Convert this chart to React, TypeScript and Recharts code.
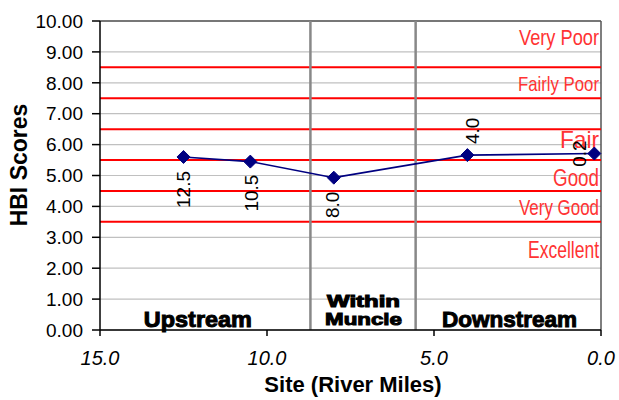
import React from "react";
import {
  CartesianGrid,
  LabelList,
  Line,
  LineChart,
  ReferenceDot,
  ReferenceLine,
  XAxis,
  YAxis,
} from "recharts";

// sites along the river, miles upstream of the mouth
const RIVER_MILES = [12.5, 10.5, 8.0, 4.0, 0.2];
const HBI_SCORES = [5.6, 5.45, 4.93, 5.66, 5.71];
const MILE_LABELS = ["12.5", "10.5", "8.0", "4.0", "0.2"];

// Hilsenhoff water quality bands
const BAND_LIMITS = [3.5, 4.5, 5.5, 6.5, 7.5, 8.5];
const BAND_NAMES = ["Very Poor", "Fairly Poor", "Fair", "Good", "Very Good", "Excellent"];
const BAND_NAME_Y = [9.22, 7.73, 5.89, 4.66, 3.72, 2.34];

// city limits and reach names
const REACH_LIMITS = [8.7, 5.55];
const REACH_NAMES = ["Upstream", "Within", "Muncle", "Downstream"];
const REACH_NAME_X = [12.07, 7.11, 7.11, 2.74];
const REACH_NAME_Y = [0.1, 0.74, 0.16, 0.1];

const X_TICKS = [15, 10, 5, 0];
const Y_TICKS = [0, 1, 2, 3, 4, 5, 6, 7, 8, 9, 10];

const FONT = "'Liberation Sans', Arial, Helvetica, sans-serif";
const NAVY = "#000080";
const BAND_RED = "#ff3333";

const data = RIVER_MILES.map((mile, i) => ({
  mile,
  hbi: HBI_SCORES[i],
  label: MILE_LABELS[i],
}));

const bandStyle: Record<string, { size: number; len: number }> = {
  "Very Poor": { size: 22, len: 80 },
  "Fairly Poor": { size: 21, len: 81 },
  Fair: { size: 24, len: 39 },
  Good: { size: 23, len: 46 },
  "Very Good": { size: 22, len: 80 },
  Excellent: { size: 24, len: 71 },
};

const reachStyle: Record<string, { size: number; len: number }> = {
  Upstream: { size: 22, len: 108 },
  Within: { size: 16, len: 73 },
  Muncle: { size: 17, len: 77 },
  Downstream: { size: 22, len: 135 },
};

// how each site label sits against its marker (rotated text)
const labelPlacement = [
  { anchor: "end", dx: 7, dy: 14 },
  { anchor: "end", dx: 8, dy: 13 },
  { anchor: "end", dx: 5, dy: 14 },
  { anchor: "start", dx: 12, dy: -11 },
  { anchor: "middle", dx: -8, dy: 0 },
];

const Diamond = (props: any) => {
  const { cx, cy, index } = props;
  if (cx == null || cy == null) return <g key={`d-${index}`} />;
  const r = 6.5;
  return (
    <path
      key={`d-${index}`}
      d={`M${cx},${cy - r}L${cx + r},${cy}L${cx},${cy + r}L${cx - r},${cy}Z`}
      fill={NAVY}
      stroke={NAVY}
    />
  );
};

const renderPointLabel = (props: any) => {
  const { x, y, value, index } = props;
  const p = labelPlacement[index] || labelPlacement[0];
  const tx = x + p.dx;
  const ty = y + p.dy;
  return (
    <text
      x={tx}
      y={ty}
      transform={`rotate(-90, ${tx}, ${ty})`}
      textAnchor={p.anchor as any}
      fontSize={19}
      fontFamily={FONT}
      fill="#000"
    >
      {value}
    </text>
  );
};

export default function App() {
  return (
    <div
      style={{
        position: "absolute",
        left: 0,
        top: 0,
        width: 619,
        height: 400,
        background: "#fff",
        fontFamily: FONT,
      }}
    >
      <LineChart
        width={619}
        height={400}
        data={data}
        margin={{ top: 21, right: 18, bottom: 0, left: 0 }}
      >
        <CartesianGrid vertical={false} stroke="#c0c0c0" strokeWidth={1.2} />
        <XAxis
          dataKey="mile"
          type="number"
          domain={[0, 15]}
          reversed
          ticks={X_TICKS}
          tickFormatter={(v: number) => v.toFixed(1)}
          height={70}
          stroke="#000"
          strokeWidth={1.5}
          tickSize={6}
          tickMargin={15}
          tick={{ fill: "#000", fontSize: 20, fontStyle: "italic", fontFamily: FONT }}
          label={{
            content: () => (
              <text
                x={353}
                y={392}
                textAnchor="middle"
                fontSize={22}
                fontWeight="bold"
                fontFamily={FONT}
                fill="#000"
              >
                Site (River Miles)
              </text>
            ),
          }}
        />
        <YAxis
          type="number"
          domain={[0, 10]}
          ticks={Y_TICKS}
          tickFormatter={(v: number) => v.toFixed(2)}
          width={100}
          stroke="#000"
          strokeWidth={1.5}
          tickSize={8}
          tickMargin={9}
          tick={{ fill: "#000", fontSize: 19, fontFamily: FONT }}
          label={{
            content: () => (
              <text
                x={27}
                y={165}
                transform="rotate(-90, 27, 165)"
                textAnchor="middle"
                fontSize={23}
                fontWeight="bold"
                fontFamily={FONT}
                fill="#000"
              >
                HBI Scores
              </text>
            ),
          }}
        />

        {/* plot frame top and right */}
        <ReferenceLine y={10} stroke="#555" strokeWidth={1.5} />
        <ReferenceLine x={0} stroke="#555" strokeWidth={1.5} />

        {BAND_LIMITS.map((v) => (
          <ReferenceLine key={`band-${v}`} y={v} stroke="#ff0000" strokeWidth={2} />
        ))}
        {REACH_LIMITS.map((v) => (
          <ReferenceLine key={`reach-${v}`} x={v} stroke="#888" strokeWidth={2.5} />
        ))}

        {BAND_NAMES.map((name, i) => (
          <ReferenceDot
            key={`bn-${name}`}
            x={0}
            y={BAND_NAME_Y[i]}
            r={0}
            fill="none"
            stroke="none"
            ifOverflow="visible"
            label={(p: any) => (
              <text
                x={p.viewBox.x - 2}
                y={p.viewBox.y}
                textAnchor="end"
                fontSize={bandStyle[name].size}
                textLength={bandStyle[name].len}
                lengthAdjust="spacingAndGlyphs"
                fontFamily={FONT}
                fill={BAND_RED}
              >
                {name}
              </text>
            )}
          />
        ))}

        {REACH_NAMES.map((name, i) => (
          <ReferenceDot
            key={`rn-${name}`}
            x={REACH_NAME_X[i]}
            y={REACH_NAME_Y[i]}
            r={0}
            fill="none"
            stroke="none"
            ifOverflow="visible"
            label={(p: any) => (
              <text
                x={p.viewBox.x}
                y={p.viewBox.y}
                textAnchor="middle"
                fontSize={reachStyle[name].size}
                textLength={reachStyle[name].len}
                lengthAdjust="spacingAndGlyphs"
                fontWeight="bold"
                fontFamily={FONT}
                fill="#000"
                stroke="#000"
                strokeWidth={1}
              >
                {name}
              </text>
            )}
          />
        ))}

        <Line
          type="linear"
          dataKey="hbi"
          stroke={NAVY}
          strokeWidth={1.6}
          dot={(p: any) => <Diamond {...p} key={`dot-${p.index}`} />}
          activeDot={false}
          isAnimationActive={false}
        >
          <LabelList dataKey="label" content={renderPointLabel} />
        </Line>
      </LineChart>
    </div>
  );
}
